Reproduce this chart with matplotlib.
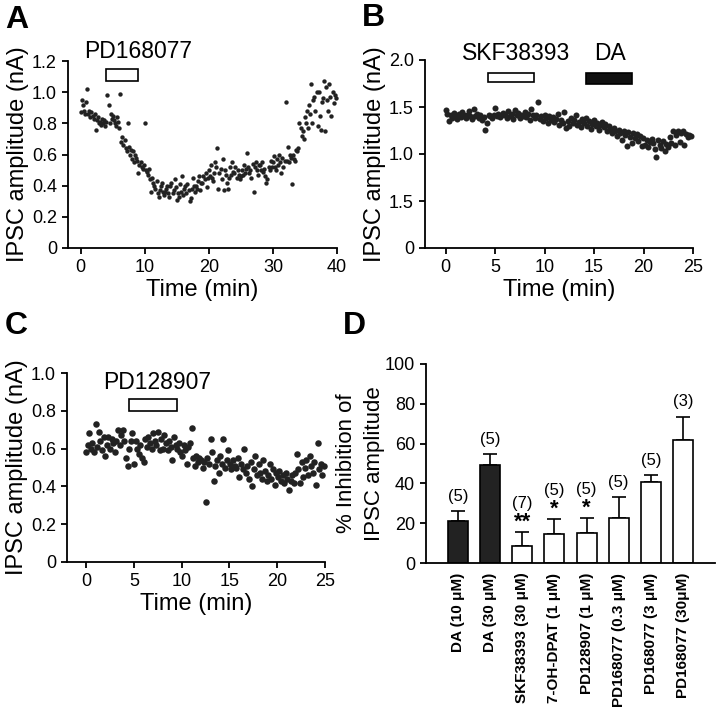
import numpy as np
import matplotlib
matplotlib.use("Agg")
import matplotlib.pyplot as plt
from matplotlib.patches import Rectangle

plt.rcParams['font.family'] = ['Liberation Sans', 'DejaVu Sans']

# ---- panel A: PD168077, one value every 1/6 min
a_vals = [
    0.87, 0.95, 0.92, 0.88, 0.86, 0.94,
    1.02, 0.86, 0.88, 0.84, 0.87, 0.85,
    0.83, 0.86, 0.76, 0.82, 0.84, 0.80,
    0.81, 0.79, 0.83, 0.80, 0.82, 0.78,
    0.81, 0.98, 0.92, 0.80, 0.86, 0.83,
    0.85, 0.82, 0.80, 0.78, 0.84, 0.81,
    0.77, 0.99, 0.68, 0.71, 0.66, 0.69,
    0.64, 0.62, 0.80, 0.65, 0.60, 0.63,
    0.57, 0.62, 0.55, 0.60, 0.58, 0.56,
    0.48, 0.53, 0.55, 0.52, 0.51, 0.53,
    0.80, 0.50, 0.49, 0.47, 0.51, 0.44,
    0.36, 0.45, 0.42, 0.40, 0.38, 0.43,
    0.35, 0.33, 0.37, 0.40, 0.42, 0.36,
    0.34, 0.36, 0.38, 0.40, 0.35, 0.33,
    0.40, 0.42, 0.35, 0.37, 0.44, 0.39,
    0.31, 0.35, 0.33, 0.41, 0.36, 0.46,
    0.34, 0.38, 0.40, 0.35, 0.41, 0.37,
    0.30, 0.32, 0.38, 0.45, 0.40, 0.36,
    0.40, 0.38, 0.43, 0.46, 0.37, 0.42,
    0.42, 0.46, 0.44, 0.48, 0.39, 0.45,
    0.50, 0.46, 0.53, 0.45, 0.43, 0.48,
    0.55, 0.52, 0.64, 0.38, 0.48, 0.51,
    0.44, 0.57, 0.37, 0.50, 0.47, 0.42,
    0.38, 0.45, 0.52, 0.47, 0.55, 0.49,
    0.48, 0.52, 0.45, 0.50, 0.47, 0.44,
    0.46, 0.50, 0.47, 0.53, 0.48, 0.51,
    0.61, 0.52, 0.48, 0.50, 0.45, 0.54,
    0.36, 0.52, 0.55, 0.50, 0.47, 0.53,
    0.53, 0.50, 0.55, 0.49, 0.51, 0.46,
    0.42, 0.44, 0.52, 0.50, 0.56, 0.52,
    0.55, 0.59, 0.52, 0.50, 0.57, 0.53,
    0.60, 0.55, 0.48, 0.58, 0.52, 0.56,
    0.94, 0.56, 0.65, 0.55, 0.60, 0.58,
    0.41, 0.60, 0.57, 0.56, 0.63, 0.62,
    0.64, 0.80, 0.77, 0.72, 0.75, 0.70,
    0.84, 0.80, 0.88, 0.77, 0.92, 0.86,
    1.05, 0.80, 0.95, 0.97, 0.88, 1.00,
    0.78, 1.00, 0.85, 0.76, 0.94, 0.96,
    1.07, 0.75, 1.03, 0.95, 0.88, 1.05,
    0.97, 0.85, 1.00, 0.93, 0.98, 0.96,
]

# ---- panel B: SKF38393 then DA
b_vals = [
    1.47, 1.43, 1.35, 1.41, 1.38, 1.44,
    1.40, 1.37, 1.43, 1.39, 1.45, 1.41,
    1.38, 1.42, 1.46, 1.40, 1.37, 1.48,
    1.40, 1.43, 1.38, 1.41, 1.36, 1.39,
    1.26, 1.33, 1.42, 1.40, 1.38, 1.41,
    1.49, 1.40, 1.43, 1.39, 1.41, 1.44,
    1.42, 1.38, 1.46, 1.40, 1.43, 1.37,
    1.47, 1.41, 1.44, 1.38, 1.42, 1.40,
    1.45, 1.39, 1.43, 1.36, 1.48, 1.41,
    1.38, 1.42, 1.55, 1.37, 1.40, 1.35,
    1.42, 1.38, 1.33, 1.40, 1.36, 1.39,
    1.34, 1.37, 1.43, 1.31, 1.36, 1.33,
    1.45, 1.28, 1.35, 1.30, 1.38, 1.33,
    1.36, 1.42, 1.31, 1.34, 1.29, 1.37,
    1.33, 1.38, 1.30, 1.35, 1.27, 1.32,
    1.36, 1.30, 1.33, 1.26, 1.31, 1.34,
    1.29, 1.32, 1.25, 1.30, 1.27, 1.22,
    1.28, 1.24, 1.19, 1.26, 1.22, 1.15,
    1.25, 1.20, 1.09, 1.23, 1.18, 1.12,
    1.22, 1.17, 1.21, 1.14, 1.19, 1.08,
    1.17, 1.10, 1.15, 1.07, 1.13, 1.16,
    1.12, 1.05, 0.97, 1.15, 1.10, 1.06,
    1.14, 1.03, 1.11, 1.07, 1.18, 1.12,
    1.24, 1.10, 1.20, 1.25, 1.13, 1.22,
    1.24, 1.10, 1.21, 1.18, 1.20, 1.19,
]
b_yticklabels = ["0", "1.5", "1.0", "1.5", "2.0"]

# ---- panel C: PD128907
c_vals = [
    0.58, 0.62, 0.68, 0.60, 0.63, 0.58,
    0.73, 0.61, 0.69, 0.64, 0.59, 0.66,
    0.56, 0.62, 0.66, 0.60, 0.65, 0.63,
    0.58, 0.64, 0.70, 0.62, 0.67, 0.70,
    0.64, 0.55, 0.51, 0.60, 0.64, 0.68,
    0.52, 0.64, 0.60, 0.57, 0.62, 0.55,
    0.53, 0.65, 0.61, 0.66, 0.63, 0.60,
    0.68, 0.64, 0.62, 0.69, 0.59, 0.65,
    0.60, 0.67, 0.63, 0.59, 0.64, 0.61,
    0.54, 0.66, 0.62, 0.60, 0.63, 0.58,
    0.56, 0.62, 0.59, 0.52, 0.61, 0.63,
    0.71, 0.55, 0.51, 0.56, 0.53, 0.55,
    0.54, 0.50, 0.53, 0.32, 0.55, 0.52,
    0.65, 0.58, 0.43, 0.51, 0.54, 0.47,
    0.56, 0.52, 0.65, 0.50, 0.54, 0.59,
    0.52, 0.49, 0.54, 0.51, 0.50, 0.55,
    0.45, 0.52, 0.49, 0.60, 0.47, 0.51,
    0.44, 0.53, 0.40, 0.49, 0.56, 0.46,
    0.52, 0.47, 0.44, 0.54, 0.48, 0.43,
    0.46, 0.52, 0.44, 0.49, 0.41, 0.47,
    0.45, 0.48, 0.43, 0.46, 0.42, 0.47,
    0.44, 0.38, 0.43, 0.46, 0.42, 0.47,
    0.57, 0.49, 0.42, 0.53, 0.45, 0.50,
    0.54, 0.46, 0.56, 0.51, 0.47, 0.53,
    0.41, 0.63, 0.49, 0.52, 0.46, 0.51,
]

# ---- panel D: % inhibition
d_labels = ["DA (10 \u03bcM)", "DA (30 \u03bcM)", "SKF38393 (30 \u03bcM)",
            "7-OH-DPAT (1 \u03bcM)", "PD128907 (1 \u03bcM)", "PD168077 (0.3 \u03bcM)",
            "PD168077 (3 \u03bcM)", "PD168077 (30\u03bcM)"]
d_means = [21, 49.3, 8.5, 14.7, 15.1, 22.6, 40.5, 62]
d_sem = [5, 5.5, 7, 7.4, 7.3, 10.5, 3.6, 11.6]
d_n = ["(5)", "(5)", "(7)", "(5)", "(5)", "(5)", "(5)", "(3)"]
d_stars = ["", "", "**", "*", "*", "", "", ""]
d_filled = [True, True, False, False, False, False, False, False]

DOT = '#222222'
W, H = 720, 716

fig = plt.figure(figsize=(7.2, 7.16), dpi=100)


def px_axes(l, t, r, b):
    return fig.add_axes([l / W, 1 - b / H, (r - l) / W, (b - t) / H])


def style(ax):
    for s in ['top', 'right']:
        ax.spines[s].set_visible(False)
    for s in ['left', 'bottom']:
        ax.spines[s].set_linewidth(1.3)
    ax.tick_params(direction='out', length=4, width=1.3, labelsize=13, pad=4)


def trace(ax, vals, tmax, size):
    t = np.arange(len(vals)) * (tmax / (len(vals) - 1))
    ax.scatter(t, vals, s=size, color=DOT, linewidths=0, clip_on=False)
    style(ax)
    ax.set_xlabel('Time (min)', fontsize=17, labelpad=2)
    ax.set_ylabel('IPSC amplitude (nA)', fontsize=17, labelpad=2)


def bar_box(ax, x0, x1, y0, y1, fill):
    ax.add_patch(Rectangle((x0, y0), x1 - x0, y1 - y0, facecolor=fill,
                           edgecolor='black', linewidth=1.2, clip_on=False))


# A
axA = px_axes(68, 61, 337, 248)
trace(axA, a_vals, 39.8, 10)
axA.set_xlim(-2, 40)
axA.set_ylim(0, 1.2)
axA.set_xticks([0, 10, 20, 30, 40])
axA.set_yticks([0, 0.2, 0.4, 0.6, 0.8, 1.0, 1.2])
axA.set_yticklabels(["0", "0.2", "0.4", "0.6", "0.8", "1.0", "1.2"])
bar_box(axA, 4, 9, 1.07, 1.15, 'white')
axA.text(9, 1.26, 'PD168077', fontsize=16.5, ha='center', va='center', clip_on=False)

# B
axB = px_axes(425, 60, 693, 248)
trace(axB, b_vals, 24.8, 19)
axB.set_xlim(-2.1, 25)
axB.set_ylim(0, 2.0)
axB.set_xticks([0, 5, 10, 15, 20, 25])
axB.set_yticks([0, 0.5, 1.0, 1.5, 2.0])
axB.set_yticklabels(b_yticklabels)
bar_box(axB, 4.3, 8.9, 1.77, 1.86, 'white')
bar_box(axB, 14.2, 18.8, 1.74, 1.86, '#111111')
axB.text(7.1, 2.07, 'SKF38393', fontsize=16.5, ha='center', va='center', clip_on=False)
axB.text(16.6, 2.07, 'DA', fontsize=16.5, ha='center', va='center', clip_on=False)

# C
axC = px_axes(67, 373, 325, 562)
trace(axC, c_vals, 24.9, 22)
axC.set_xlim(-2.0, 25)
axC.set_ylim(0, 1.0)
axC.set_xticks([0, 5, 10, 15, 20, 25])
axC.set_yticks([0, 0.2, 0.4, 0.6, 0.8, 1.0])
axC.set_yticklabels(["0", "0.2", "0.4", "0.6", "0.8", "1.0"])
bar_box(axC, 4.5, 9.5, 0.80, 0.86, 'white')
axC.text(7.4, 0.95, 'PD128907', fontsize=16.5, ha='center', va='center', clip_on=False)

# D
axD = px_axes(426, 364, 715, 563)
x = np.arange(len(d_means))
means = np.array(d_means)
sem = np.array(d_sem)
colors = [DOT if f else 'white' for f in d_filled]
axD.bar(x, means, width=0.62, color=colors, edgecolor='black', linewidth=1.2, zorder=2)
axD.errorbar(x, means, yerr=[np.zeros_like(sem), sem], fmt='none', ecolor='black',
             elinewidth=1.2, capsize=5, capthick=1.2, zorder=1)
for i in range(len(x)):
    top = means[i] + sem[i]
    if d_stars[i]:
        axD.text(x[i], top + 5, d_stars[i], fontsize=16, fontweight='bold',
                 ha='center', va='center')
        axD.text(x[i], top + 14.5, d_n[i], fontsize=12, ha='center', va='center')
    else:
        axD.text(x[i], top + 7.5, d_n[i], fontsize=12, ha='center', va='center')
style(axD)
axD.set_xlim(-1, 8)
axD.set_ylim(0, 100)
axD.set_yticks([0, 20, 40, 60, 80, 100])
axD.set_xticks(x)
axD.set_xticklabels(d_labels, rotation=90, fontsize=11, fontweight='bold')
axD.tick_params(axis='x', length=0, pad=7)
axD.set_ylabel('% Inhibition of\nIPSC amplitude', fontsize=16, labelpad=0, linespacing=1.4)

# panel letters
for lab, lx, ly in [('A', 5, 5), ('B', 362, 3), ('C', 5, 311), ('D', 343, 311)]:
    fig.text(lx / W, 1 - ly / H, lab, fontsize=23, fontweight='bold', ha='left', va='top')

fig.savefig('out.png', dpi=100)
